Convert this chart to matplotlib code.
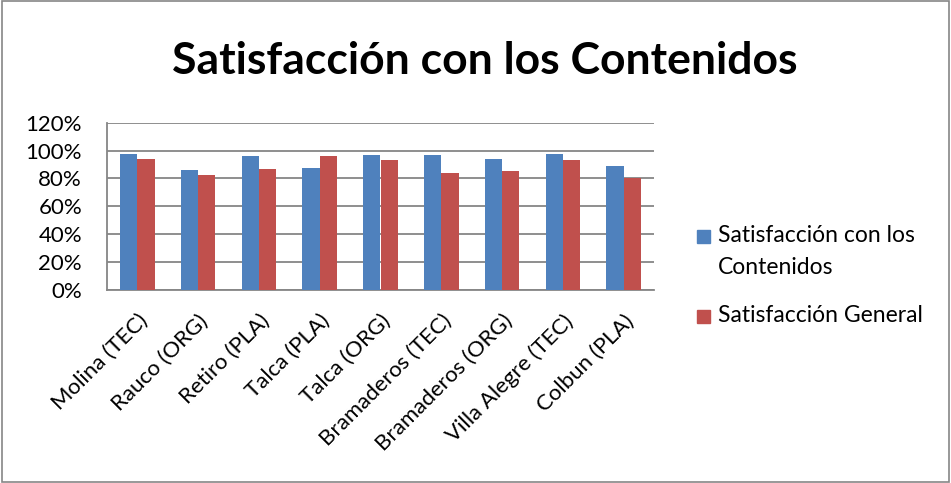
import matplotlib.pyplot as plt
import numpy as np
from matplotlib.patches import Rectangle
from matplotlib.ticker import FuncFormatter

categories = ["Molina (TEC)", "Rauco (ORG)", "Retiro (PLA)", "Talca (PLA)", "Talca (ORG)",
              "Bramaderos (TEC)", "Bramaderos (ORG)", "Villa Alegre (TEC)", "Colbun (PLA)"]
contenidos = [0.977, 0.858, 0.963, 0.872, 0.970, 0.968, 0.937, 0.973, 0.889]
general = [0.941, 0.822, 0.867, 0.963, 0.930, 0.836, 0.851, 0.930, 0.800]
yticks = [0, 0.2, 0.4, 0.6, 0.8, 1.0, 1.2]
series_names = ["Satisfacción con los\nContenidos", "Satisfacción General"]
colors = ["#4f81bd", "#c0504d"]

plt.rcParams['font.family'] = ['Lato', 'DejaVu Sans']

W, H = 951, 483
fig = plt.figure(figsize=(W / 100, H / 100), dpi=100)
ax = fig.add_axes([107 / W, 1 - 290 / H, 547 / W, (290 - 122.7) / H])

x = np.arange(len(categories))
w = 0.285
ax.bar(x - w / 2, contenidos, w, color=colors[0], zorder=3)
ax.bar(x + w / 2, general, w, color=colors[1], zorder=3)

ax.set_xlim(-0.5, len(categories) - 0.5)
ax.set_ylim(0, 1.2)
ax.set_yticks(yticks)
ax.yaxis.set_major_formatter(FuncFormatter(lambda v, p: f"{v * 100:.0f}%"))
ax.grid(axis="y", color="#868686", linewidth=1.3, zorder=0)
for s in ["top", "right"]:
    ax.spines[s].set_visible(False)
ax.spines["left"].set_color("#868686")
ax.spines["bottom"].set_color("#868686")
ax.spines["left"].set_linewidth(1.3)
ax.spines["bottom"].set_linewidth(1.3)
ax.tick_params(axis="y", length=0, labelsize=16, pad=18)
ax.tick_params(axis="x", length=0, labelsize=16, pad=15)
ax.set_xticks(x)
ax.set_xticklabels(categories, rotation=45, ha="right", rotation_mode="anchor")

fig.suptitle("Satisfacción con los Contenidos", x=485 / W, y=1 - 61 / H, va="center",
             fontsize=32, fontweight="bold")

# legend drawn by hand so the blue square sits on the first text line, as in Excel
for name, col, ypix in zip(series_names, colors, [236, 316]):
    fig.patches.append(Rectangle((697 / W, 1 - (ypix + 6.5) / H), 13 / W, 13 / H,
                                 transform=fig.transFigure, color=col))
    fig.text(718 / W, 1 - (ypix - 11) / H, name, fontsize=16.5, va="top", ha="left",
             linespacing=1.65)

fig.patches.append(Rectangle((0.002, 0.002), 0.996, 0.996, transform=fig.transFigure,
                             fill=False, edgecolor="#868686", linewidth=1.2))

fig.savefig("out.png", dpi=100)
